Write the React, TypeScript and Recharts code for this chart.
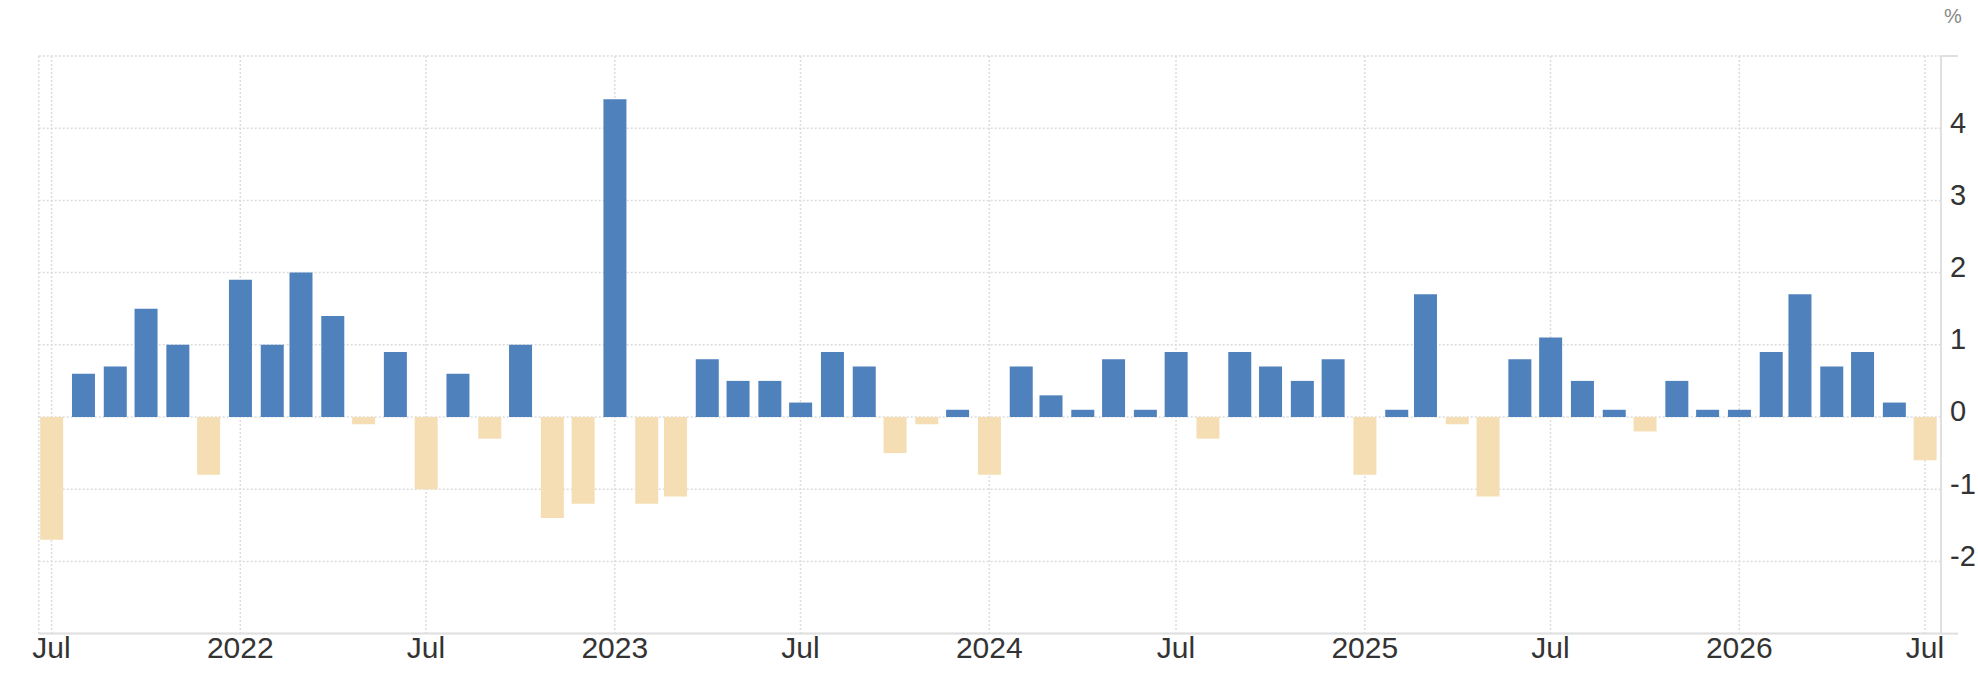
import React from "react";
import { Bar, BarChart, CartesianGrid, Cell, Label, XAxis, YAxis } from "recharts";

// monthly change, Jul 2021 .. Jul 2026
const months = [
  "2021-07", "2021-08", "2021-09", "2021-10", "2021-11", "2021-12",
  "2022-01", "2022-02", "2022-03", "2022-04", "2022-05", "2022-06",
  "2022-07", "2022-08", "2022-09", "2022-10", "2022-11", "2022-12",
  "2023-01", "2023-02", "2023-03", "2023-04", "2023-05", "2023-06",
  "2023-07", "2023-08", "2023-09", "2023-10", "2023-11", "2023-12",
  "2024-01", "2024-02", "2024-03", "2024-04", "2024-05", "2024-06",
  "2024-07", "2024-08", "2024-09", "2024-10", "2024-11", "2024-12",
  "2025-01", "2025-02", "2025-03", "2025-04", "2025-05", "2025-06",
  "2025-07", "2025-08", "2025-09", "2025-10", "2025-11", "2025-12",
  "2026-01", "2026-02", "2026-03", "2026-04", "2026-05", "2026-06",
  "2026-07",
];

const values = [
  -1.7, 0.6, 0.7, 1.5, 1.0, -0.8,
  1.9, 1.0, 2.0, 1.4, -0.1, 0.9,
  -1.0, 0.6, -0.3, 1.0, -1.4, -1.2,
  4.4, -1.2, -1.1, 0.8, 0.5, 0.5,
  0.2, 0.9, 0.7, -0.5, -0.1, 0.1,
  -0.8, 0.7, 0.3, 0.1, 0.8, 0.1,
  0.9, -0.3, 0.9, 0.7, 0.5, 0.8,
  -0.8, 0.1, 1.7, -0.1, -1.1, 0.8,
  1.1, 0.5, 0.1, -0.2, 0.5, 0.1,
  0.1, 0.9, 1.7, 0.7, 0.9, 0.2,
  -0.6,
];

const tickMonths = [
  "2021-07", "2022-01", "2022-07", "2023-01", "2023-07", "2024-01",
  "2024-07", "2025-01", "2025-07", "2026-01", "2026-07",
];
const tickLabels = ["Jul", "2022", "Jul", "2023", "Jul", "2024", "Jul", "2025", "Jul", "2026", "Jul"];
const yTicks = [-3, -2, -1, 0, 1, 2, 3, 4, 5];

const UP = "#4f81bd";
const DOWN = "#f5deb3";
const FONT = "Arial, 'Liberation Sans', sans-serif";

// days since the first month
const dayOf = (m: string) => {
  const [y, mo] = m.split("-").map(Number);
  return (Date.UTC(y, mo - 1, 1) - Date.UTC(2021, 6, 1)) / 86400000;
};

const data = months.map((m, i) => ({ day: dayOf(m), value: values[i] }));
const xTicks = tickMonths.map(dayOf);

const RightTick = (props: any) => {
  const { x, y, payload } = props;
  const v = payload.value;
  if (v === 5 || v === -3) {
    return <line x1={x - 9} x2={x + 8} y1={y} y2={y} stroke="#e0e0e0" strokeWidth={2} />;
  }
  return (
    <text x={x} y={y - 6} dy="0.36em" textAnchor="start" fontSize={29} fill="#333" fontFamily={FONT}>
      {v}
    </text>
  );
};

export default function App() {
  return (
    <div style={{ position: "absolute", left: 0, top: 0, background: "#fff" }}>
      <BarChart
        width={1978}
        height={690}
        data={data}
        margin={{ top: 56, right: 0, bottom: 0, left: 38.7 }}
      >
        <CartesianGrid
          yAxisId="r"
          stroke="#dcdcdc"
          strokeDasharray="2 2"
          strokeWidth={1.5}
        />
        <XAxis
          type="number"
          dataKey="day"
          domain={[-12.5, 1841.6]}
          allowDataOverflow
          ticks={xTicks}
          interval={0}
          tickFormatter={(d: number) => tickLabels[xTicks.indexOf(d)] ?? ""}
          height={56.4}
          tickSize={0}
          tickMargin={3}
          tickLine={false}
          axisLine={{ stroke: "#e0e0e0", strokeWidth: 2 }}
          tick={{ fontSize: 30, fill: "#333", fontFamily: FONT }}
        />
        <YAxis
          yAxisId="l"
          orientation="left"
          width={0}
          domain={[-3, 5]}
          ticks={yTicks}
          tick={false}
          tickLine={false}
          axisLine={{ stroke: "#e0e0e0", strokeWidth: 2 }}
        />
        <YAxis
          yAxisId="r"
          orientation="right"
          width={37}
          domain={[-3, 5]}
          ticks={yTicks}
          interval={0}
          tickSize={0}
          tickMargin={9}
          tickLine={false}
          axisLine={{ stroke: "#e0e0e0", strokeWidth: 2 }}
          tick={<RightTick />}
        >
          <Label
            content={({ viewBox }: any) => (
              <text
                x={viewBox.x + 12}
                y={viewBox.y - 33}
                textAnchor="middle"
                fontSize={20}
                fill="#888"
                fontFamily={FONT}
              >
                %
              </text>
            )}
          />
        </YAxis>
        <Bar dataKey="value" yAxisId="r" barSize={23} isAnimationActive={false}>
          {data.map((d, i) => (
            <Cell key={i} fill={d.value < 0 ? DOWN : UP} />
          ))}
        </Bar>
      </BarChart>
    </div>
  );
}
